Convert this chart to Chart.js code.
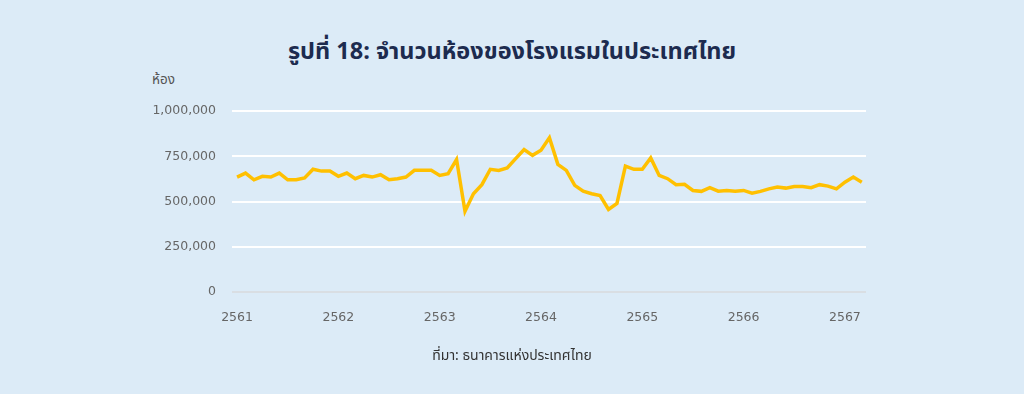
<!DOCTYPE html>
<html lang="th">
  <head>
    <meta charset="UTF-8" />
    <title>จำนวนห้องของโรงแรมในประเทศไทย</title>
    <script src="https://cdn.jsdelivr.net/npm/chart.js"></script>
    <style>
      html, body { margin: 0; padding: 0; }
      body {
        width: 1024px;
        height: 394px;
        background: #dcebf7;
        position: relative;
        overflow: hidden;
        font-family: "Noto Sans Thai", "Noto Sans", "DejaVu Sans", sans-serif;
      }
      #title {
        position: absolute;
        top: 34px;
        left: 0;
        width: 1024px;
        text-align: center;
        font-size: 23.5px;
        font-weight: 700;
        color: #1d2b4f;
      }
      #unit {
        position: absolute;
        left: 152px;
        top: 70px;
        font-size: 13.5px;
        color: #555;
      }
      #source {
        position: absolute;
        top: 345px;
        left: 0;
        width: 1024px;
        text-align: center;
        font-size: 14px;
        color: #333;
      }
      #wrap { position: absolute; left: 0; top: 0; width: 1024px; height: 394px; }
    </style>
  </head>
  <body>
    <div id="title">รูปที่ 18: จำนวนห้องของโรงแรมในประเทศไทย</div>
    <div id="unit">ห้อง</div>
    <div id="wrap"><canvas id="myChart"></canvas></div>
    <div id="source">ที่มา: ธนาคารแห่งประเทศไทย</div>

    <script>
      // monthly, Jan 2561 .. Mar 2567
      const rooms = [
        635000, 657000, 620000, 639000, 635000, 657000, 620000, 620000, 630000, 678000, 668000, 668000,
        639000, 657000, 626000, 644000, 635000, 648000, 620000, 626000, 635000, 672000, 672000, 672000,
        644000, 654000, 732000, 446000, 543000, 593000, 678000, 672000, 685000, 737000, 787000, 755000,
        783000, 852000, 705000, 672000, 589000, 557000, 543000, 533000, 456000, 489000, 696000, 678000,
        678000, 741000, 644000, 626000, 593000, 595000, 561000, 556000, 576000, 557000, 561000, 557000,
        561000, 546000, 556000, 570000, 580000, 574000, 583000, 583000, 576000, 593000, 585000, 570000,
        607000, 635000, 607000,
      ];
      const years = ["2561", "2562", "2563", "2564", "2565", "2566", "2567"];
      const yTicks = [0, 250000, 500000, 750000, 1000000];

      const ctx = document.getElementById("myChart").getContext("2d");
      new Chart(ctx, {
        type: "line",
        data: {
          datasets: [
            {
              data: rooms.map((v, i) => ({ x: i, y: v })),
              borderColor: "#ffc000",
              borderWidth: 3.5,
              pointRadius: 0,
              tension: 0,
            },
          ],
        },
        options: {
          responsive: true,
          maintainAspectRatio: false,
          animation: false,
          layout: { padding: { left: 144, right: 158, top: 111, bottom: 62 } },
          plugins: { legend: { display: false }, tooltip: { enabled: false } },
          scales: {
            x: {
              type: "linear",
              min: -0.6,
              max: 74.5,
              afterFit: (s) => { s.height = 40; },
              afterBuildTicks: (axis) => {
                axis.ticks = years.map((y, i) => ({ value: i * 12 }));
              },
              grid: { display: false, drawTicks: false },
              border: { display: false },
              ticks: {
                padding: 18,
                color: "#666",
                font: { family: "DejaVu Sans", size: 12.5 },
                callback: (v) => years[v / 12],
              },
            },
            y: {
              min: 0,
              max: 1000000,
              afterFit: (s) => { s.width = 88; },
              afterBuildTicks: (axis) => {
                axis.ticks = yTicks.map((v) => ({ value: v }));
              },
              grid: {
                drawTicks: false,
                color: (c) => (c.tick.value === 0 ? "#d9dee3" : "#ffffff"),
                lineWidth: 2,
              },
              border: { display: false },
              ticks: {
                padding: 16,
                color: "#666",
                font: { family: "DejaVu Sans", size: 12.5 },
                callback: (v) => v.toLocaleString("en-US"),
              },
            },
          },
        },
      });
    </script>
  </body>
</html>
